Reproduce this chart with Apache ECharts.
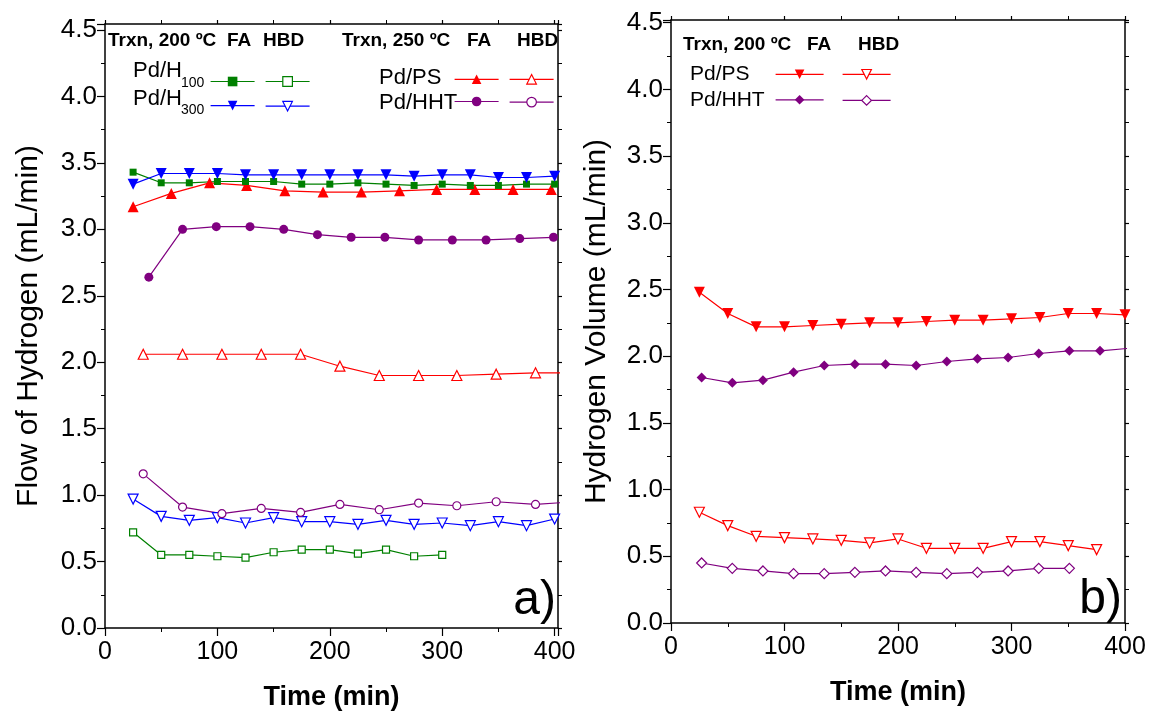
<!DOCTYPE html>
<html>
<head>
<meta charset="utf-8">
<script src="https://cdn.jsdelivr.net/npm/echarts@6/dist/echarts.min.js"></script>
<style>
  html, body { margin: 0; padding: 0; background: #fff; }
  #chart { width: 1152px; height: 717px; }
</style>
</head>
<body>
<div id="chart"></div>
<script>
// ---- panel a) Flow of Hydrogen ----
const tA25 = [25, 50, 75, 100, 125, 150, 175, 200, 225, 250, 275, 300, 325, 350, 375, 400];
const tA25short = [25, 50, 75, 100, 125, 150, 175, 200, 225, 250, 275, 300];
const tPsFA = [25, 59, 93, 126, 160, 194, 228, 262, 295, 329, 363, 397];
const tHhtFA = [39, 69, 99, 129, 159, 189, 219, 249, 279, 309, 339, 369, 399];
const tHBD250 = [34, 69, 104, 139, 174, 209, 244, 279, 313, 348, 383, 418];

const h100FA = [3.43, 3.35, 3.35, 3.36, 3.36, 3.36, 3.34, 3.34, 3.35, 3.34, 3.33, 3.34, 3.33, 3.33, 3.34, 3.34];
const h300FA = [3.34, 3.42, 3.42, 3.42, 3.41, 3.41, 3.41, 3.41, 3.41, 3.41, 3.40, 3.41, 3.41, 3.39, 3.39, 3.40];
const h100HBD = [0.72, 0.55, 0.55, 0.54, 0.53, 0.57, 0.59, 0.59, 0.56, 0.59, 0.54, 0.55];
const h300HBD = [0.97, 0.84, 0.81, 0.83, 0.79, 0.83, 0.80, 0.80, 0.78, 0.81, 0.78, 0.79, 0.77, 0.80, 0.77, 0.82];
const psFA250 = [3.17, 3.27, 3.35, 3.33, 3.29, 3.28, 3.28, 3.29, 3.30, 3.30, 3.30, 3.30];
const hhtFA250 = [2.64, 3.00, 3.02, 3.02, 3.00, 2.96, 2.94, 2.94, 2.92, 2.92, 2.92, 2.93, 2.94];
const psHBD250 = [2.06, 2.06, 2.06, 2.06, 2.06, 1.97, 1.90, 1.90, 1.90, 1.91, 1.92, 1.92];
const hhtHBD250 = [1.16, 0.91, 0.86, 0.90, 0.87, 0.93, 0.89, 0.94, 0.92, 0.95, 0.93, 0.95];

// ---- panel b) Hydrogen Volume ----
const tB25 = [25, 50, 75, 100, 125, 150, 175, 200, 225, 250, 275, 300, 325, 350, 375, 400];
const tB25short = [25, 50, 75, 100, 125, 150, 175, 200, 225, 250, 275, 300, 325, 350, 375];
const tB27 = [27, 54, 81, 108, 135, 162, 189, 216, 243, 270, 297, 324, 351, 378, 405];
const tB27short = [27, 54, 81, 108, 135, 162, 189, 216, 243, 270, 297, 324, 351];

const psFA200 = [2.48, 2.32, 2.22, 2.22, 2.23, 2.24, 2.25, 2.25, 2.26, 2.27, 2.27, 2.28, 2.29, 2.32, 2.32, 2.31];
const hhtFA200 = [1.84, 1.80, 1.82, 1.88, 1.93, 1.94, 1.94, 1.93, 1.96, 1.98, 1.99, 2.02, 2.04, 2.04, 2.06];
const psHBD200 = [0.83, 0.73, 0.65, 0.64, 0.63, 0.62, 0.60, 0.63, 0.56, 0.56, 0.56, 0.61, 0.61, 0.58, 0.55];
const hhtHBD200 = [0.45, 0.41, 0.39, 0.37, 0.37, 0.38, 0.39, 0.38, 0.37, 0.38, 0.39, 0.41, 0.41];

const FONT = '"Liberation Sans", Arial, sans-serif';
const GREEN = '#008000', BLUE = '#0000ff', RED = '#ff0000', PURPLE = '#800080';

function ser(name, xi, t, v, color, symbol, size, open, rot) {
  return {
    name: name,
    type: 'line',
    xAxisIndex: xi,
    yAxisIndex: xi,
    data: t.map((x, i) => [x, v[i]]),
    symbol: symbol,
    symbolSize: size,
    symbolRotate: rot || 0,
    showAllSymbol: true,
    lineStyle: { color: color, width: 1.2 },
    itemStyle: open ? { color: '#fff', borderColor: color, borderWidth: 1.2 } : { color: color },
    emphasis: { disabled: true },
    z: open ? 2 : 3
  };
}

function xAx(grid, max, top) {
  return {
    type: 'value', gridIndex: grid, min: 0, max: max, interval: 100,
    position: top ? 'top' : 'bottom',
    name: top ? '' : 'Time (min)',
    nameLocation: 'middle', nameGap: 56,
    nameTextStyle: { fontFamily: FONT, fontSize: 27, fontWeight: 'bold', color: '#000' },
    axisLine: { show: true, onZero: false, lineStyle: { color: '#000', width: 1.5 } },
    axisTick: { show: true, length: top ? 4 : 8, lineStyle: { color: '#000', width: 1.2 } },
    minorTick: { show: true, splitNumber: 2, length: 4, lineStyle: { color: '#000', width: 1 } },
    splitLine: { show: false },
    axisLabel: {
      show: !top, margin: 12, color: '#000', fontFamily: FONT, fontSize: 25,
      formatter: v => (v % 100 === 0 ? String(v) : '')
    }
  };
}

function yAx(grid, max, right, name, gap) {
  return {
    type: 'value', gridIndex: grid, min: 0, max: max, interval: 0.5,
    position: right ? 'right' : 'left',
    name: right ? '' : name,
    nameLocation: 'middle', nameGap: gap,
    nameTextStyle: { fontFamily: FONT, fontSize: 30, color: '#000' },
    axisLine: { show: true, onZero: false, lineStyle: { color: '#000', width: 1.5 } },
    axisTick: { show: true, length: right ? 4 : 8, lineStyle: { color: '#000', width: 1.2 } },
    minorTick: { show: true, splitNumber: 2, length: 4, lineStyle: { color: '#000', width: 1 } },
    splitLine: { show: false },
    axisLabel: {
      show: !right, margin: 8, color: '#000', fontFamily: FONT, fontSize: 26,
      formatter: v => (Math.abs(v * 2 - Math.round(v * 2)) < 1e-6 ? v.toFixed(1) : '')
    }
  };
}

function leg(items, left, top, gap, w) {
  return {
    data: items, left: left, top: top, orient: 'vertical',
    itemWidth: w, itemHeight: 12, itemGap: gap, padding: 0,
    selectedMode: false, formatter: () => '',
    lineStyle: { width: 1.2 }, itemStyle: { borderWidth: 1.2 }
  };
}

function txt(s, x, y, size, bold, align) {
  return {
    type: 'text', x: x, y: y, z: 100,
    style: {
      text: s, fill: '#000', align: align || 'left', verticalAlign: 'middle',
      font: (bold ? 'bold ' : '') + size + 'px ' + FONT
    }
  };
}

const chart = echarts.init(document.getElementById('chart'), null, { renderer: 'canvas' });
chart.setOption({
  animation: false,
  backgroundColor: '#fff',
  grid: [
    { left: 105, right: 594, top: 24, bottom: 89, outerBoundsMode: 'none' },
    { left: 671, right: 27, top: 20, bottom: 94, outerBoundsMode: 'none' }
  ],
  xAxis: [xAx(0, 403, false), xAx(0, 403, true), xAx(1, 400, false), xAx(1, 400, true)],
  yAxis: [
    yAx(0, 4.545, false, 'Flow of Hydrogen (mL/min)', 61),
    yAx(0, 4.545, true),
    yAx(1, 4.52, false, 'Hydrogen Volume (mL/min)', 59),
    yAx(1, 4.52, true)
  ],
  legend: [
    leg(['a H100 FA', 'a H300 FA'], 210, 75.5, 13.3, 44),
    leg(['a H100 HBD', 'a H300 HBD'], 265, 75.5, 13.3, 44),
    leg(['a PS FA', 'a HHT FA'], 454, 73.3, 11.4, 44),
    leg(['a PS HBD', 'a HHT HBD'], 509, 73.3, 11.4, 44),
    leg(['b PS FA', 'b HHT FA'], 775, 68.3, 14.7, 48),
    leg(['b PS HBD', 'b HHT HBD'], 842, 68.3, 14.7, 48)
  ],
  graphic: [
    txt('Trxn, 200 ºC', 108, 41, 19, true),
    txt('FA', 227, 41, 19, true),
    txt('HBD', 263, 41, 19, true),
    txt('Pd/H', 133, 71, 22),
    txt('100', 181, 83, 14),
    txt('Pd/H', 133, 99, 22),
    txt('300', 181, 110, 14),
    txt('Trxn, 250 ºC', 342, 41, 19, true),
    txt('FA', 467, 41, 19, true),
    txt('HBD', 517, 41, 19, true),
    txt('Pd/PS', 379, 78, 22),
    txt('Pd/HHT', 379, 103, 22),
    txt('a)', 556, 601, 48, false, 'right'),
    txt('Trxn, 200 ºC', 683, 45, 19, true),
    txt('FA', 807, 45, 19, true),
    txt('HBD', 858, 45, 19, true),
    txt('Pd/PS', 690, 74, 21),
    txt('Pd/HHT', 690, 100, 21),
    txt('b)', 1122, 600, 48, false, 'right')
  ],
  series: [
    ser('a H100 HBD', 0, tA25short, h100HBD, GREEN, 'rect', 7, true),
    ser('a H300 HBD', 0, tA25, h300HBD, BLUE, 'triangle', 10, true, 180),
    ser('a PS HBD', 0, tHBD250, psHBD250, RED, 'triangle', 10, true),
    ser('a HHT HBD', 0, tHBD250, hhtHBD250, PURPLE, 'circle', 8, true),
    ser('a HHT FA', 0, tHhtFA, hhtFA250, PURPLE, 'circle', 9),
    ser('a PS FA', 0, tPsFA, psFA250, RED, 'triangle', 11),
    ser('a H100 FA', 0, tA25, h100FA, GREEN, 'rect', 7),
    ser('a H300 FA', 0, tA25, h300FA, BLUE, 'triangle', 11, false, 180),
    ser('b PS HBD', 2, tB25short, psHBD200, RED, 'triangle', 10, true, 180),
    ser('b HHT HBD', 2, tB27short, hhtHBD200, PURPLE, 'diamond', 10, true),
    ser('b PS FA', 2, tB25, psFA200, RED, 'triangle', 11, false, 180),
    ser('b HHT FA', 2, tB27, hhtFA200, PURPLE, 'diamond', 10)
  ]
});
window.addEventListener('resize', () => {
  chart.resize();
});
</script>
</body>
</html>
